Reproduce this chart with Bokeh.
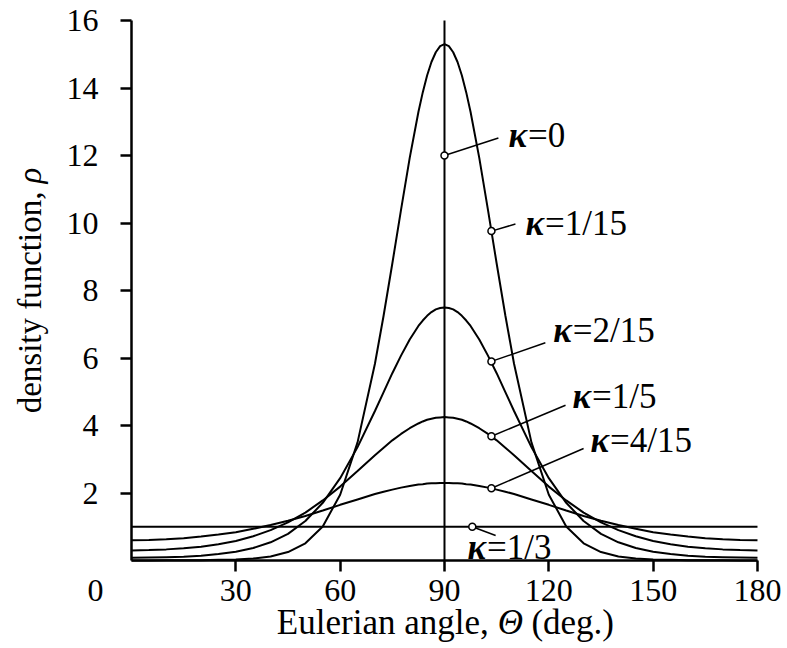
from bokeh.plotting import figure
from bokeh.models import Range1d, FixedTicker, Label
from bokeh.embed import file_html
from bokeh.resources import INLINE

# Eulerian angle (deg.)
theta = [0, 5, 10, 15, 20, 25, 30, 35, 40, 45, 50, 55, 60, 65, 70, 72.5, 75, 77.5, 80, 82.5, 83.75, 85,
         86.25, 87.5, 88.75, 90,
         91.25, 92.5, 93.75, 95, 96.25, 97.5, 100, 102.5, 105, 107.5, 110, 115, 120, 125, 130, 135, 140,
         145, 150, 155, 160, 165, 170, 175, 180]

# density function values
rho_k1_15 = [0.00, 0.00, 0.01, 0.01, 0.01, 0.02, 0.03, 0.06, 0.12, 0.25, 0.51, 1.01, 1.95, 3.50, 5.83, 7.26,
             8.80, 10.39, 11.93, 13.29, 13.87, 14.37, 14.77, 15.06, 15.24, 15.30,
             15.24, 15.06, 14.77, 14.37, 13.87, 13.29, 11.93, 10.39, 8.80, 7.26, 5.83, 3.50, 1.95, 1.01,
             0.51, 0.25, 0.12, 0.06, 0.03, 0.02, 0.01, 0.01, 0.01, 0.00, 0.00]
rho_k2_15 = [0.08, 0.09, 0.10, 0.11, 0.14, 0.19, 0.26, 0.37, 0.54, 0.79, 1.17, 1.71, 2.44, 3.36, 4.43, 4.99,
             5.55, 6.07, 6.55, 6.95, 7.11, 7.25, 7.36, 7.44, 7.48, 7.50,
             7.48, 7.44, 7.36, 7.25, 7.11, 6.95, 6.55, 6.07, 5.55, 4.99, 4.43, 3.36, 2.44, 1.71, 1.17,
             0.79, 0.54, 0.37, 0.26, 0.19, 0.14, 0.11, 0.10, 0.09, 0.08]
rho_k1_5 = [0.30, 0.31, 0.33, 0.36, 0.41, 0.48, 0.58, 0.72, 0.90, 1.13, 1.42, 1.78, 2.19, 2.65, 3.12, 3.34,
            3.56, 3.75, 3.92, 4.06, 4.12, 4.17, 4.20, 4.23, 4.24, 4.25,
            4.24, 4.23, 4.20, 4.17, 4.12, 4.06, 3.92, 3.75, 3.56, 3.34, 3.12, 2.65, 2.19, 1.78, 1.42,
            1.13, 0.90, 0.72, 0.58, 0.48, 0.41, 0.36, 0.33, 0.31, 0.30]
rho_k4_15 = [0.60, 0.61, 0.63, 0.66, 0.71, 0.77, 0.84, 0.94, 1.05, 1.18, 1.32, 1.48, 1.65, 1.81, 1.97, 2.04,
             2.10, 2.16, 2.21, 2.25, 2.26, 2.28, 2.29, 2.29, 2.30, 2.30,
             2.30, 2.29, 2.29, 2.28, 2.26, 2.25, 2.21, 2.16, 2.10, 2.04, 1.97, 1.81, 1.65, 1.48, 1.32,
             1.18, 1.05, 0.94, 0.84, 0.77, 0.71, 0.66, 0.63, 0.61, 0.60]
theta_k1_3 = [0, 180]
rho_k1_3 = [1.0, 1.0]
theta_k0 = [90, 90]
rho_k0 = [0, 16]

x_ticks = [30, 60, 90, 120, 150, 180]
y_ticks = [2, 4, 6, 8, 10, 12, 14, 16]

# curve labels: marker point on curve, end of leader, text positions
lab_names = ["=0", "=1/15", "=2/15", "=1/5", "=4/15", "=1/3"]
mark_x = [90, 103.5, 103.5, 103.5, 103.5, 98]
mark_y = [12.0, 9.76, 5.90, 3.68, 2.14, 1.0]
lead_x = [105.5, 110.4, 119.0, 124.8, 130.0, 104.7]
lead_y = [12.52, 9.97, 6.45, 4.60, 3.32, 0.74]
kap_x = [108.4, 113.3, 121.3, 126.8, 132.0, 96.6]
eq_x = [114.0, 118.9, 126.9, 132.4, 137.6, 102.2]
lab_y = [12.59, 10.0, 6.81, 4.86, 3.56, 0.39]

SERIF = "Liberation Serif"

# frame covers the whole canvas; axes sit at the data origin
p = figure(width=787, height=648, x_range=Range1d(-37.667, 188.63), y_range=Range1d(-2.607, 16.593),
           output_backend="svg", toolbar_location=None,
           min_border_left=0, min_border_right=0, min_border_top=0, min_border_bottom=0)
p.grid.visible = False
p.outline_line_color = None
p.background_fill_color = "white"
p.border_fill_color = "white"

p.xaxis.fixed_location = 0
p.yaxis.fixed_location = 0
p.xaxis.bounds = (0, 180)
p.yaxis.bounds = (0, 16)
p.xaxis.ticker = FixedTicker(ticks=x_ticks)
p.yaxis.ticker = FixedTicker(ticks=y_ticks)
for ax in (p.xaxis, p.yaxis):
    ax.axis_line_width = 2.5
    ax.axis_line_color = "black"
    ax.major_tick_line_width = 2.5
    ax.major_tick_line_color = "black"
    ax.major_tick_out = 11
    ax.major_tick_in = 0
    ax.minor_tick_line_color = None
    ax.major_label_text_font = SERIF
    ax.major_label_text_font_size = "32px"
    ax.major_label_text_color = "black"
p.xaxis.major_label_standoff = 8
p.yaxis.major_label_standoff = 22

for rho in (rho_k1_15, rho_k2_15, rho_k1_5, rho_k4_15):
    p.line(theta, rho, line_color="black", line_width=2)
p.line(theta_k1_3, rho_k1_3, line_color="black", line_width=2)
p.line(theta_k0, rho_k0, line_color="black", line_width=2)

p.segment(mark_x, mark_y, lead_x, lead_y, line_color="black", line_width=1.5)
p.scatter(mark_x, mark_y, size=7, fill_color="white", line_color="black", line_width=1.5)

for kx, ex, ly, name in zip(kap_x, eq_x, lab_y, lab_names):
    p.add_layout(Label(x=kx, y=ly, text="\u03ba", text_font=SERIF, text_font_style="bold italic",
                       text_font_size="35px", text_color="black", text_baseline="alphabetic"))
    p.add_layout(Label(x=ex, y=ly, text=name, text_font=SERIF, text_font_size="35px",
                       text_color="black", text_baseline="alphabetic"))

# origin label
p.add_layout(Label(x=-10.35, y=-0.563, text="0", text_font=SERIF, text_font_size="32px",
                   text_color="black", text_align="center", text_baseline="top"))

# x axis title
for tx, txt, sty in ((41.8, "Eulerian angle,", "normal"), (105.3, "\u0398", "italic"), (115.0, "(deg.)", "normal")):
    p.add_layout(Label(x=tx, y=-1.84, text=txt, text_font=SERIF, text_font_style=sty,
                       text_font_size="35px", text_color="black", text_baseline="alphabetic"))

# y axis title
for ty, txt, sty in ((4.36, "density function,", "normal"), (11.17, "\u03c1", "italic")):
    p.add_layout(Label(x=-29.1, y=ty, text=txt, text_font=SERIF, text_font_style=sty, angle=1.5708,
                       text_font_size="33px", text_color="black", text_baseline="alphabetic"))

open("out.html", "w").write(file_html(p, INLINE))
